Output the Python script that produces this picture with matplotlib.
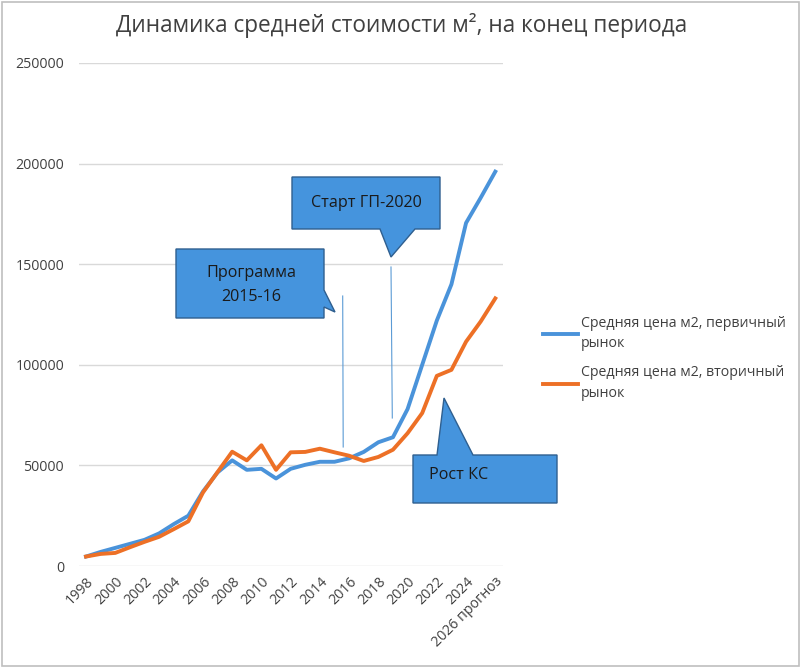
import numpy as np
import matplotlib
matplotlib.use('Agg')
import matplotlib.pyplot as plt
from matplotlib.patches import Polygon, Rectangle

plt.rcParams['font.family'] = ['Open Sans', 'DejaVu Sans']

years = [str(y) for y in range(1998, 2026)] + ['2026 прогноз']
primary = [4700, 7000, 9000, 11000, 13000, 16200, 20800, 25000, 37000, 46500,
           52500, 47800, 48300, 43500, 48300, 50300, 51800, 51800, 53500, 56700,
           61500, 64000, 78000, 100000, 122000, 140000, 170500, 183000, 196000]
secondary = [4700, 6000, 6500, 9300, 12000, 14500, 18300, 22200, 36500, 46700,
             56800, 52500, 60000, 47800, 56500, 56700, 58300, 56500, 54800, 52200,
             54200, 57800, 66000, 76000, 94500, 97500, 111500, 121500, 133000]
yticks = [0, 50000, 100000, 150000, 200000, 250000]

W, H = 800, 667
fig = plt.figure(figsize=(W / 100, H / 100), dpi=100)
ax = fig.add_axes([78.7 / W, 1 - 566 / H, (502.6 - 78.7) / W, (566 - 63) / H])

x = np.arange(len(years))
ax.plot(x, primary, color='#4A93DA', lw=2.8, solid_joinstyle='round',
        label='Средняя цена м2, первичный\nрынок', zorder=3)
ax.plot(x, secondary, color='#ED7026', lw=2.8, solid_joinstyle='round',
        label='Средняя цена м2, вторичный\nрынок', zorder=3)

ax.set_xlim(-0.5, len(years) - 0.5)
ax.set_ylim(0, 250000)
ax.set_yticks(yticks)
ax.set_yticklabels([str(v) for v in yticks])
ax.set_xticks(x[::2])
ax.set_xticklabels(years[::2], rotation=45, ha='right', rotation_mode='anchor')
ax.tick_params(length=0, labelsize=10.2, labelcolor='#404040')
ax.tick_params(axis='y', pad=10.5)
ax.tick_params(axis='x', pad=6)
ax.grid(axis='y', color='#D9D9D9', lw=1)
ax.set_axisbelow(True)
for s in ax.spines.values():
    s.set_visible(False)

fig.text(402 / W, 1 - 25 / H, 'Динамика средней стоимости м², на конец периода',
         ha='center', va='center', fontsize=16.3, color='#404040')

leg = fig.legend(loc='upper left', bbox_to_anchor=(530 / W, 1 - 303 / H),
                 frameon=False, fontsize=10.2, handlelength=2.5, handletextpad=0.2,
                 labelspacing=1.0, labelcolor='#404040')
for t in leg.get_texts():
    t.set_linespacing(1.5)


def px(pts):
    return [(a / W, 1 - b / H) for a, b in pts]


fill = '#4594DD'
edge = '#2F5F8F'
callouts = [
    [(176, 249), (324, 249), (324, 290), (335, 312), (324, 307), (324, 318), (176, 318)],
    [(292, 177), (440, 177), (440, 229), (415, 229), (391, 257), (380, 229), (292, 229)],
    [(413, 455), (437, 455), (444, 398), (473, 455), (557, 455), (557, 503), (413, 503)],
]
for c in callouts:
    fig.patches.append(Polygon(px(c), closed=True, transform=fig.transFigure,
                               facecolor=fill, edgecolor=edge, lw=1, zorder=5))

for (x0, y0, x1, y1) in [(342.7, 296, 343.2, 447), (391, 267, 392.3, 418)]:
    fig.add_artist(plt.Line2D([x0 / W, x1 / W], [1 - y0 / H, 1 - y1 / H],
                              color='#5B9BD5', lw=0.8, zorder=4))

fs = 11.6
fig.text(251 / W, 1 - 273 / H, 'Программа', ha='center', va='center',
         fontsize=fs, color='#1a1a1a', zorder=6)
fig.text(251 / W, 1 - 297 / H, '2015-16', ha='center', va='center',
         fontsize=fs, color='#1a1a1a', zorder=6)
fig.text(366 / W, 1 - 203 / H, 'Старт ГП-2020', ha='center', va='center',
         fontsize=fs, color='#1a1a1a', zorder=6)
fig.text(429 / W, 1 - 475 / H, 'Рост КС', ha='left', va='center',
         fontsize=fs, color='#1a1a1a', zorder=6)

fig.patches.append(Rectangle((1.5 / W, 1.5 / H), (W - 3) / W, (H - 3) / H,
                             transform=fig.transFigure, fill=False,
                             edgecolor='#BFBFBF', lw=1.2))

fig.savefig('out.png', dpi=100)
